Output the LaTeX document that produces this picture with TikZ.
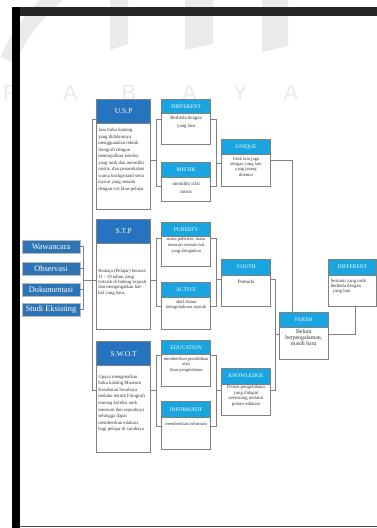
\documentclass[tikz,border=0pt]{standalone}
\usepackage{fontspec}
\setmainfont{Liberation Serif}
\setsansfont{Liberation Sans}
\usetikzlibrary{calc}
\definecolor{hdark}{HTML}{2673BF}
\definecolor{hlight}{HTML}{1AA5E0}
\definecolor{lbox}{HTML}{2E75B6}
\definecolor{bgray}{HTML}{808080}
\definecolor{wm}{HTML}{EAEAEA}
\definecolor{txt}{HTML}{333333}
\tikzset{
 every node/.style={inner sep=0pt, outer sep=0pt},
 boxline/.style={draw=bgray, line width=0.8pt},
 hdrdark/.style={boxline, fill=hdark, text=white, font=\fontsize{7.5}{8}\selectfont, anchor=north west},
 hdrlight/.style={boxline, fill=hlight, text=white, font=\fontsize{5.5}{6}\selectfont, anchor=north west},
 bodybox/.style={boxline, fill=white, anchor=north west},
 bodytext/.style={text=txt, align=center, anchor=north},
 lefttext/.style={text=txt, align=left, anchor=north west},
 srcbox/.style={draw=gray!55, line width=0.7pt, fill=lbox, text=white, font=\fontsize{8.3}{9}\selectfont, minimum width=58pt, minimum height=13pt, anchor=north west},
 conn/.style={draw=bgray, line width=0.8pt},
}
\newcommand{\mkbox}[8]{%
 \node[bodybox, minimum width={#4pt-#2pt}, minimum height={#6pt-#5pt}] (#1b) at (#2,#5) {};
 \node[#7, minimum width={#4pt-#2pt}, minimum height={#5pt-#3pt}] (#1h) at (#2,#3) {#8};
}
\begin{document}
\begin{tikzpicture}[x=1pt,y=-1pt]
\useasboundingbox (0,0) rectangle (377,528);
% watermark
\fill[wm] (110,0) -- (128,0) -- (128,44) -- (110,50) -- cycle;
\fill[wm] (185,0) -- (213,0) -- (213,44) -- (185,50) -- cycle;
\fill[wm] (262,0) -- (288,0) -- (288,46) -- (262,52) -- cycle;
\draw[wm, line width=16pt] (62,-10) .. controls (40,10) and (20,30) .. (8,60);
\node[text=wm, font=\sffamily\fontsize{22}{22}\selectfont, anchor=base west] (wmark) at (3,100) {R\hspace{44pt}A\hspace{44pt}B\hspace{46pt}A\hspace{36pt}Y\hspace{36pt}A};
% frame
\fill[black!85] (12.3,7.3) rectangle (377,16);
\fill[black] (12.3,7.3) rectangle (20,528);
\draw[black!70, line width=0.8pt] (20,526) -- (377,526);

% source boxes
\node[srcbox] (wawa) at (22,240) {Wawancara};
\node[srcbox] (obs) at (22,262) {Observasi};
\node[srcbox] (dok) at (22,283) {Dokumentasi};
\node[srcbox] (stud) at (22,303) {Studi Eksisting};

% column B
\mkbox{usp}{96.7}{99.3}{150.7}{123.3}{209.3}{hdrdark}{U.S.P}
\mkbox{stp}{96.7}{219.3}{150.7}{243.3}{329.3}{hdrdark}{S.T.P}
\mkbox{swot}{96.7}{341.7}{150.7}{365.7}{452}{hdrdark}{S.W.O.T}
% column C
\mkbox{diff}{161.7}{99.3}{210.7}{113.3}{144}{hdrlight}{DIFFERENT}
\mkbox{mist}{161.7}{162.7}{210.7}{177.3}{201.7}{hdrlight}{MISTIK}
\mkbox{pub}{161.7}{222.7}{210.7}{236.5}{266.7}{hdrlight}{PUBERTY}
\mkbox{act}{161.7}{282.7}{210.7}{297.3}{329.3}{hdrlight}{ACTIVE}
\mkbox{edu}{161.7}{340}{210.7}{354.5}{386.7}{hdrlight}{EDUCATION}
\mkbox{inf}{161.7}{401.7}{210.7}{417.3}{449}{hdrlight}{INFORMATIF}
% column D
\mkbox{uniq}{221.7}{139.3}{270.3}{154.7}{186.7}{hdrlight}{UNIQUE}
\mkbox{youth}{221.7}{259.3}{270.3}{275}{306}{hdrlight}{YOUTH}
\mkbox{know}{221.7}{368.3}{270.3}{384}{415}{hdrlight}{KNOWLEDGE}
% column E
\mkbox{fersh}{279.3}{312.7}{328.3}{327.7}{359.3}{hdrlight}{FERSH}
\mkbox{diffb}{328.3}{259.3}{376.7}{275}{306}{hdrlight}{DIFFERENT}

% body texts
\node[lefttext, font=\fontsize{4.8}{6.5}\selectfont] (usptx) at (98.3,128.5) {Jasa buku katalog\\yang didalamnya\\menggunakan teknik\\fotografi dengan\\menonjolkan koleksi\\yang unik dan memiliki\\mistis, dan penambahan\\warna background serta\\layout yang senada\\dengan ciri khas pelajar};
\node[lefttext, font=\fontsize{4.8}{5.4}\selectfont] (stptx) at (98.3,269.3) {Remaja (Pelajar) berusia\\11 - 19 tahun yang\\tertarik di bidang sejarah\\dan mengingatkan hal-\\hal yang baru.};
\node[lefttext, font=\fontsize{4.8}{6.6}\selectfont] (swottx) at (98.3,374.7) {Upaya mengenalkan\\buku katalog Museum\\Kesehatan Surabaya\\melalui teknik Fotografi\\tentang koleksi unik\\museum dan sejarahnya\\sehingga dapat\\memberikan edukasi\\bagi pelajar di surabaya};
\node[bodytext, font=\fontsize{4.9}{7.5}\selectfont] (difftx) at (186.2,116.5) {Berbeda dengan\\yang lain};
\node[bodytext, font=\fontsize{4.9}{7.5}\selectfont] (misttx) at (186.2,182.3) {memiliki sifat\\mistis};
\node[bodytext, font=\fontsize{4.6}{5.8}\selectfont] (pubtx) at (186.2,237.8) {masa pubertas, masa\\mencari sesuatu hal\\yang diinginkan};
\node[bodytext, font=\fontsize{4.6}{5.4}\selectfont] (acttx) at (186.2,300) {aktif dalam\\keingintahuan sejarah};
\node[bodytext, font=\fontsize{4.6}{5.2}\selectfont] (edutx) at (186.2,357.6) {memberikan pendidikan\\atau\\ilmu pengetahuan};
\node[bodytext, font=\fontsize{4.6}{5.2}\selectfont] (inftx) at (186.2,422.3) {memberikan informasi};
\node[bodytext, font=\fontsize{4.6}{5.3}\selectfont] (uniqtx) at (246,157.2) {Unik lain juga\\dengan yang lain\\yang jarang\\ditemui};
\node[bodytext, font=\fontsize{5}{5.6}\selectfont] (youthtx) at (246,280.2) {Pemuda};
\node[bodytext, font=\fontsize{4.8}{5.5}\selectfont] (knowtx) at (246,385.6) {Proses pengetahuan\\yang didapat\\seseorang melalui\\proses edukasi};
\node[bodytext, font=\fontsize{5.8}{5.9}\selectfont] (fershtx) at (303.8,329.4) {Belum\\berpengalaman,\\masih baru};
\node[lefttext, font=\fontsize{4.8}{5.1}\selectfont] (diffbtx) at (330.8,279) {Sesuatu yang unik\\berbeda dengan\\\hspace{2pt}yang lain};

% connectors: sources to trunk
\coordinate (lb) at (83.3,280);
\coordinate (tr) at (92.3,280);
\draw[conn] (wawa.east) -| (lb);
\draw[conn] (stud.east) -| (lb);
\draw[conn] (obs.east) -- (obs.east -| lb);
\draw[conn] (dok.east) -- (dok.east -| lb);
\draw[conn] (lb) -- (tr);
% trunk
\coordinate (t1) at (92.3,119);
\coordinate (t3) at (92.3,390);
\draw[conn] (usph.west |- t1) -| (t3) -- (swotb.west |- t3);
\draw[conn] (tr) -- (stpb.west |- tr);
% USP bracket
\coordinate (ub) at (156.3,160.7);
\coordinate (ub1) at (156.3,119.3);
\coordinate (ub2) at (156.3,186.7);
\draw[conn] (uspb.east |- ub) -- (ub);
\draw[conn] (diffb.west |- ub1) -- (ub1) -- (ub2) -- (mistb.west |- ub2);
% STP bracket
\coordinate (sb) at (156.3,280);
\coordinate (sb1) at (156.3,238.3);
\coordinate (sb2) at (156.3,306.7);
\draw[conn] (stpb.east |- sb) -- (sb);
\draw[conn] (pubb.west |- sb1) -- (sb1) -- (sb2) -- (actb.west |- sb2);
% SWOT bracket
\coordinate (wb) at (156.3,390);
\coordinate (wb1) at (156.3,355.5);
\coordinate (wb2) at (156.3,426.7);
\draw[conn] (swotb.east |- wb) -- (wb);
\draw[conn] (edub.west |- wb1) -- (wb1) -- (wb2) -- (infb.west |- wb2);
% col C to col D
\coordinate (qb) at (216,163);
\coordinate (qb1) at (216,119.3);
\coordinate (qb2) at (216,186.7);
\draw[conn] (diffb.east |- qb1) -- (qb1) -- (qb2) -- (mistb.east |- qb2);
\draw[conn] (qb) -- (uniqb.west |- qb);
\coordinate (yb) at (216,279.3);
\coordinate (yb1) at (216,238.3);
\coordinate (yb2) at (216,306.7);
\draw[conn] (pubb.east |- yb1) -- (yb1) -- (yb2) -- (actb.east |- yb2);
\draw[conn] (yb) -- (youthb.west |- yb);
\coordinate (kb) at (216,390.7);
\coordinate (kb1) at (216,355.5);
\coordinate (kb2) at (216,426.7);
\draw[conn] (edub.east |- kb1) -- (kb1) -- (kb2) -- (infb.east |- kb2);
\draw[conn] (kb) -- (knowb.west |- kb);
% col D to FERSH
\coordinate (fb) at (275,334.3);
\coordinate (fb1) at (275,279.3);
\coordinate (fb2) at (275,390);
\draw[conn] (youthb.east |- fb1) -- (fb1) -- (fb2) -- (knowb.east |- fb2);
\draw[conn] (fb) -- (fershb.west |- fb);
\coordinate (ue) at (292,160.7);
\draw[conn] (uniqb.east |- ue) -- (ue) -- (ue |- fershh.north);
\coordinate (de) at (355.7,334.3);
\draw[conn] (diffbb.south -| de) -- (de) -- (fershb.east |- de);
\end{tikzpicture}
\end{document}
